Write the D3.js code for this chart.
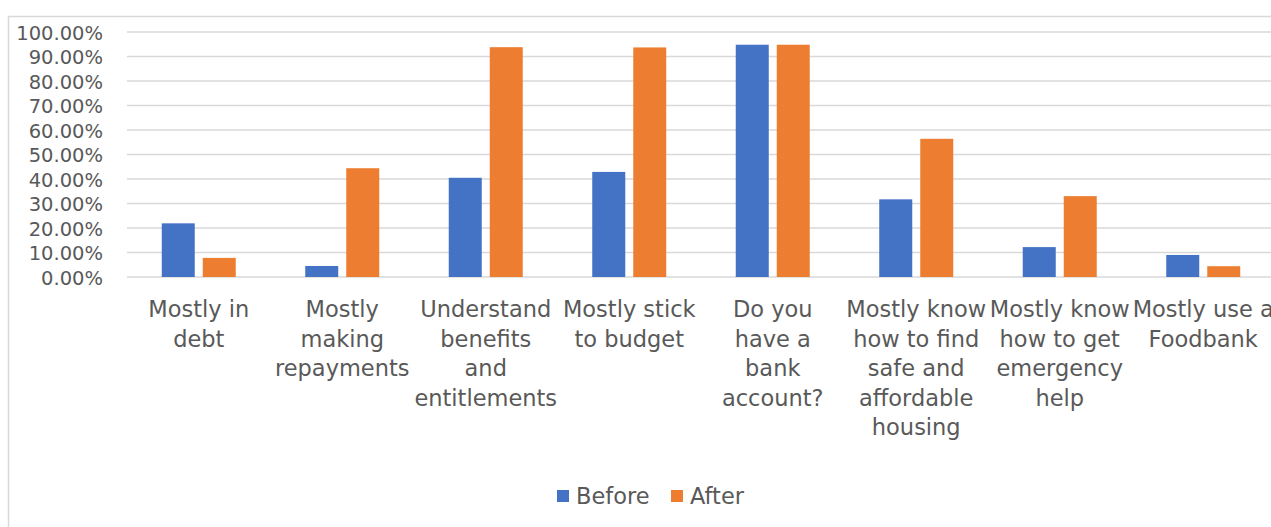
<!DOCTYPE html>
<html>
<head>
<meta charset="utf-8">
<script src="https://cdn.jsdelivr.net/npm/d3@7"></script>
<style>
    body { margin: 0; background: #fff; }
    text { font-family: "DejaVu Sans", sans-serif; fill: #595959; }
</style>
</head>
<body>
<div id="chart"></div>
<script>
// categories and values
const categories = [
    "Mostly in\ndebt",
    "Mostly\nmaking\nrepayments",
    "Understand\nbenefits\nand\nentitlements",
    "Mostly stick\nto budget",
    "Do you\nhave a\nbank\naccount?",
    "Mostly know\nhow to find\nsafe and\naffordable\nhousing",
    "Mostly know\nhow to get\nemergency\nhelp",
    "Mostly use a\nFoodbank"
];
const seriesNames = ["Before", "After"];
const before = [0.219, 0.045, 0.405, 0.429, 0.948, 0.317, 0.122, 0.090];
const after = [0.078, 0.444, 0.938, 0.937, 0.948, 0.564, 0.330, 0.044];
const yTicks = [0, 0.1, 0.2, 0.3, 0.4, 0.5, 0.6, 0.7, 0.8, 0.9, 1.0];
const colors = ["#4472C4", "#ED7D31"];

const width = 1271, height = 527;
const plot = {left: 127, right: 1275, top: 32, bottom: 277};

let svg = d3.select("#chart")
    .append("svg")
    .attr("width", width)
    .attr("height", height);

// chart frame (right and bottom sides fall outside the picture)
svg.append("rect")
    .attr("x", 8.5).attr("y", 16.5)
    .attr("width", 1300).attr("height", 600)
    .attr("fill", "none")
    .attr("stroke", "#d9d9d9")
    .attr("stroke-width", 1.5);

let x = d3.scaleBand()
    .domain(categories)
    .range([plot.left, plot.right])
    .padding(0);

let y = d3.scaleLinear()
    .domain([0, 1])
    .range([plot.bottom, plot.top]);

let color = d3.scaleOrdinal().domain(seriesNames).range(colors);

// gridlines
svg.append("g")
    .selectAll("line")
    .data(yTicks)
    .join("line")
    .attr("x1", plot.left).attr("x2", width)
    .attr("y1", d => y(d)).attr("y2", d => y(d))
    .attr("stroke", "#d9d9d9")
    .attr("stroke-width", 1.5);

// y axis labels
let yAxis = svg.append("g")
    .attr("transform", "translate(" + (plot.left - 24) + ",0)")
    .call(d3.axisLeft(y).tickValues(yTicks).tickFormat(d3.format(".2%")).tickSize(0).tickPadding(0));
yAxis.select(".domain").remove();
yAxis.selectAll("text")
    .attr("dy", "0.36em")
    .style("font-size", "19.5px")
    .style("font-family", "'DejaVu Sans', sans-serif")
    .attr("fill", "#595959");

// bars
let rows = categories.map((c, i) => ({cat: c, values: [before[i], after[i]]}));
let groupWidth = 74;
let xSub = d3.scaleBand()
    .domain(seriesNames)
    .range([0, groupWidth])
    .paddingInner(8 / 41);

let groups = svg.append("g")
    .selectAll("g")
    .data(rows)
    .join("g")
    .attr("transform", d => "translate(" + (x(d.cat) + x.bandwidth() / 2 - groupWidth / 2) + ",0)");

groups.selectAll("rect")
    .data(d => d.values.map((v, k) => ({key: seriesNames[k], value: v})))
    .join("rect")
    .attr("x", d => xSub(d.key))
    .attr("y", d => y(d.value))
    .attr("width", xSub.bandwidth())
    .attr("height", d => y(0) - y(d.value))
    .attr("fill", d => color(d.key));

// category labels
let labels = svg.append("g")
    .selectAll("text")
    .data(categories)
    .join("text")
    .attr("x", d => x(d) + x.bandwidth() / 2)
    .attr("y", 317)
    .attr("text-anchor", "middle")
    .style("font-size", "22.5px");

labels.selectAll("tspan")
    .data(d => d.split("\n"))
    .join("tspan")
    .attr("x", function () { return d3.select(this.parentNode).attr("x"); })
    .attr("dy", (d, i) => i === 0 ? 0 : 29.5)
    .text(d => d);

// legend
let legend = svg.append("g");
let legendX = [557, 671];
seriesNames.forEach((s, i) => {
    legend.append("rect")
        .attr("x", legendX[i]).attr("y", 490)
        .attr("width", 12).attr("height", 12)
        .attr("fill", color(s));
    legend.append("text")
        .attr("x", legendX[i] + 19).attr("y", 504)
        .style("font-size", "22.5px")
        .text(s);
});
</script>
</body>
</html>
